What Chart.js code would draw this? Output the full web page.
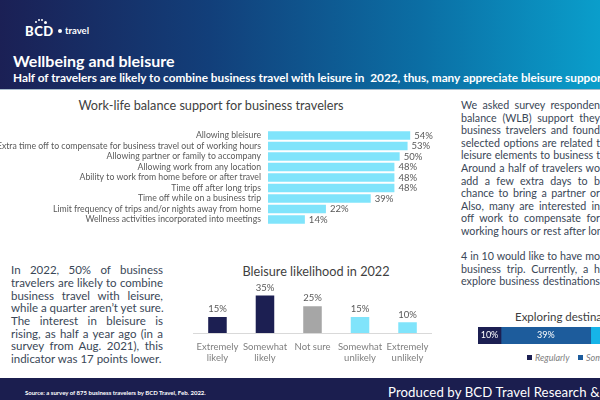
<!DOCTYPE html>
<html><head><meta charset="utf-8">
<script src="https://cdn.jsdelivr.net/npm/chart.js@4.4.1/dist/chart.umd.min.js"></script>
<style>
html,body{margin:0;padding:0;width:600px;height:400px;overflow:hidden;background:#fff;font-family:Lato,"Open Sans",sans-serif;}
#page{position:relative;width:600px;height:400px;overflow:hidden;}
.abs{position:absolute;}
#header{left:0;top:0;width:600px;height:89px;background:linear-gradient(90deg,#1b2055 0%,#123f7a 35%,#0b6ea4 70%,#0a9ecb 100%);border-bottom:1px solid #a9bdcc;}
.white{color:#fff;}
.pline{position:absolute;white-space:nowrap;color:#3a4757;line-height:12.6px;height:12.6px;overflow:visible;}
.just{text-align:justify;text-align-last:justify;}
#footer{left:0;top:378px;width:600px;height:22px;background:#1b1e4f;}
.ctitle{color:#3f3f3f;text-align:center;white-space:nowrap;}
</style>
</head><body><div id="page">
<div id="header" class="abs"></div>
<!-- logo -->
<div class="abs white" style="left:25px;top:24px;font-weight:900;font-size:13px;letter-spacing:0.5px;line-height:14px;">BCD</div>
<div class="abs" style="left:35px;top:21px;width:2px;height:2px;border-radius:1px;background:#fff"></div>
<div class="abs" style="left:38px;top:19px;width:2px;height:2px;border-radius:1px;background:#fff"></div>
<div class="abs" style="left:41px;top:19px;width:2px;height:2px;border-radius:1px;background:#fff"></div>
<div class="abs" style="left:44px;top:21px;width:3px;height:3px;border-radius:2px;background:#fff"></div>
<div class="abs" style="left:58px;top:29px;width:4px;height:4px;border-radius:2px;background:#fff"></div>
<div class="abs white" style="left:65px;top:25px;font-size:9.5px;line-height:11px;font-weight:700;">travel</div>
<div class="abs white" style="left:13px;top:52px;font-weight:700;font-size:16px;line-height:18px;white-space:nowrap;">Wellbeing and bleisure</div>
<div class="abs white" style="left:13px;top:71px;font-weight:700;font-size:11.8px;line-height:14px;white-space:nowrap;">Half of travelers are likely to combine business travel with leisure in&nbsp; 2022, thus, many appreciate bleisure support</div>

<!-- chart 1 -->
<div class="abs ctitle" style="left:0;top:97px;width:422px;font-size:12.7px;line-height:17px;">Work-life balance support for business travelers</div>
<div class="abs" style="left:0;top:118px;width:440px;height:119px;"><canvas id="c1"></canvas></div>

<!-- left paragraph -->
<div id="leftp"></div>
<!-- chart 2 -->
<div class="abs ctitle" style="left:216px;top:263px;width:200px;font-size:12.7px;line-height:17px;">Bleisure likelihood in 2022</div>
<div class="abs" style="left:189px;top:278px;width:247px;height:87px;"><canvas id="c2"></canvas></div>

<!-- right paragraph -->
<div id="rightp"></div>
<!-- chart 3 -->
<div class="abs" style="left:515px;top:309px;font-size:11.5px;line-height:15px;color:#404040;white-space:nowrap;">Exploring destinations</div>
<div class="abs" style="left:478px;top:327px;width:230px;height:17px;"><canvas id="c3"></canvas></div>
<div id="legend3"></div>

<div id="footer" class="abs"></div>
<div class="abs white" style="left:25px;top:389px;font-size:6px;line-height:8px;font-weight:700;white-space:nowrap;">Source: a survey of 875 business travelers by BCD Travel, Feb. 2022.</div>
<div class="abs white" style="left:388px;top:385px;font-size:13.2px;line-height:14px;letter-spacing:0.1px;white-space:nowrap;">Produced by BCD Travel Research &amp;</div>
</div>
<script>
// ---------- data ----------
const wlbCategories = [
  "Allowing bleisure",
  "Extra time off to compensate for business travel out of working hours",
  "Allowing partner or family to accompany",
  "Allowing work from any location",
  "Ability to work from home before or after travel",
  "Time off after long trips",
  "Time off while on a business trip",
  "Limit frequency of trips and/or nights away from home",
  "Wellness activities incorporated into meetings"
];
const wlbValues = [54, 53, 50, 48, 48, 48, 39, 22, 14];

const likeCategories = [["Extremely","likely"],["Somewhat","likely"],["Not sure"],["Somewhat","unlikely"],["Extremely","unlikely"]];
const likeValues = [15, 35, 25, 15, 10];

const exploreSeries = ["Regularly", "Sometimes", "Never"];
const exploreValues = [10, 39, 51];

const leftLines = [
  ["In 2022, 50% of business", true],
  ["travelers are likely to combine", true],
  ["business travel with leisure,", true],
  ["while a quarter aren\u2019t yet sure.", false],
  ["The interest in bleisure is", true],
  ["rising, as half a year ago (in a", true],
  ["survey from Aug. 2021), this", true],
  ["indicator was 17 points lower.", false]
];
const rightLines = [
  "We asked survey responden",
  "balance (WLB) support they",
  "business travelers and found",
  "selected options are related t",
  "leisure elements to business t",
  "Around a half of travelers wo",
  "add a few extra days to b",
  "chance to bring a partner or",
  "Also, many are interested in",
  "off work to compensate for",
  "working hours or rest after lon",
  "",
  "4 in 10 would like to have mo",
  "business trip. Currently, a h",
  "explore business destinations"
];

// ---------- colours ----------
const cyan = "#80e4fb";
const navy = "#1c1f52";
const grey = "#a6a6a6";
const likeColors = [navy, navy, grey, cyan, cyan];
const exploreColors = ["#1c1f52", "#1d5c9c", "#16b4e8"];

// ---------- text blocks ----------
const lp = document.getElementById('leftp');
leftLines.forEach((l, i) => {
  const d = document.createElement('div');
  d.className = 'pline' + (l[1] ? ' just' : '');
  d.style.left = '11px'; d.style.top = (264.4 + i * 12.65) + 'px';
  d.style.width = '152px'; d.style.fontSize = '11.5px';
  d.textContent = l[0];
  lp.appendChild(d);
});
const rp = document.getElementById('rightp');
rightLines.forEach((t, i) => {
  if (!t) return;
  const d = document.createElement('div');
  d.className = 'pline just';
  d.style.left = '461px'; d.style.top = (99 + i * 12.6) + 'px';
  d.style.width = '139px'; d.style.fontSize = '10.7px';
  d.textContent = t;
  rp.appendChild(d);
});
const lg = document.getElementById('legend3');
let lx = 527;
exploreSeries.forEach((s, i) => {
  const b = document.createElement('div');
  b.className = 'abs';
  b.style.cssText = `left:${lx}px;top:355px;width:5px;height:5px;background:${exploreColors[i]}`;
  lg.appendChild(b);
  const t = document.createElement('div');
  t.className = 'abs';
  t.style.cssText = `left:${lx+8}px;top:352px;font-size:9px;line-height:11px;font-style:italic;color:#7f7f7f;white-space:nowrap`;
  t.textContent = s;
  lg.appendChild(t);
  lx += 51;
});

// ---------- charts ----------
Chart.defaults.font.family = 'Lato, "Open Sans", sans-serif';
Chart.defaults.animation = false;

const valueLabels = {
  id: 'valueLabels',
  afterDatasetsDraw(chart, args, opts) {
    if (!opts || !opts.mode) return;
    const ctx = chart.ctx;
    ctx.save();
    ctx.font = opts.font;
    ctx.fillStyle = opts.color;
    chart.data.datasets.forEach((ds, di) => {
      const meta = chart.getDatasetMeta(di);
      meta.data.forEach((el, i) => {
        const txt = ds.data[i] + '%';
        if (opts.mode === 'end') {
          ctx.textAlign = 'left'; ctx.textBaseline = 'middle';
          ctx.fillText(txt, el.x + opts.offset, el.y);
        } else if (opts.mode === 'top') {
          ctx.textAlign = 'center'; ctx.textBaseline = 'bottom';
          ctx.fillText(txt, el.x, el.y - opts.offset);
        } else {
          ctx.textAlign = 'center'; ctx.textBaseline = 'middle';
          ctx.fillText(txt, (el.x + el.base) / 2, el.y);
        }
      });
    });
    ctx.restore();
  }
};
Chart.register(valueLabels);

new Chart(document.getElementById('c1'), {
  type: 'bar',
  data: { labels: wlbCategories, datasets: [{ data: wlbValues, backgroundColor: cyan, categoryPercentage: 1, barPercentage: 0.81 }] },
  options: {
    indexAxis: 'y', responsive: true, maintainAspectRatio: false,
    layout: { padding: { left: 0, right: 14, top: 0, bottom: 0 } },
    plugins: { legend: { display: false }, tooltip: { enabled: false },
      valueLabels: { mode: 'end', offset: 4, font: '9.5px Lato, sans-serif', color: '#595959' } },
    scales: {
      x: { display: false, min: 0, max: 60 },
      y: { grid: { display: false, drawTicks: false }, border: { display: false },
           ticks: { autoSkip: false, padding: 7, color: '#595959', font: { size: 8.7 } },
           afterFit(s) { s.width = 268; } }
    }
  }
});

new Chart(document.getElementById('c2'), {
  type: 'bar',
  data: { labels: likeCategories, datasets: [{ data: likeValues, backgroundColor: likeColors, categoryPercentage: 1, barPercentage: 0.39 }] },
  options: {
    responsive: true, maintainAspectRatio: false,
    layout: { padding: { left: 0, right: 0, top: 12, bottom: 0 } },
    plugins: { legend: { display: false }, tooltip: { enabled: false },
      valueLabels: { mode: 'top', offset: 3, font: '9.5px Lato, sans-serif', color: '#595959' } },
    scales: {
      y: { display: false, min: 0, max: 40 },
      x: { grid: { display: false, drawTicks: false }, border: { display: true, color: '#d9d9d9', width: 1 },
           ticks: { autoSkip: false, maxRotation: 0, padding: 8, color: '#7f7f7f', font: { size: 9.5 } },
           afterFit(s) { s.height = 32; } }
    }
  }
});

new Chart(document.getElementById('c3'), {
  type: 'bar',
  data: { labels: [''], datasets: exploreSeries.map((s, i) => ({ label: s, data: [exploreValues[i]], backgroundColor: exploreColors[i], categoryPercentage: 1, barPercentage: 1 })) },
  options: {
    indexAxis: 'y', responsive: true, maintainAspectRatio: false,
    layout: { padding: 0 },
    plugins: { legend: { display: false }, tooltip: { enabled: false },
      valueLabels: { mode: 'center', font: '9px Lato, sans-serif', color: '#ffffff' } },
    scales: {
      x: { display: false, stacked: true, min: 0, max: 100 },
      y: { display: false, stacked: true }
    }
  }
});
</script>
</body></html>
